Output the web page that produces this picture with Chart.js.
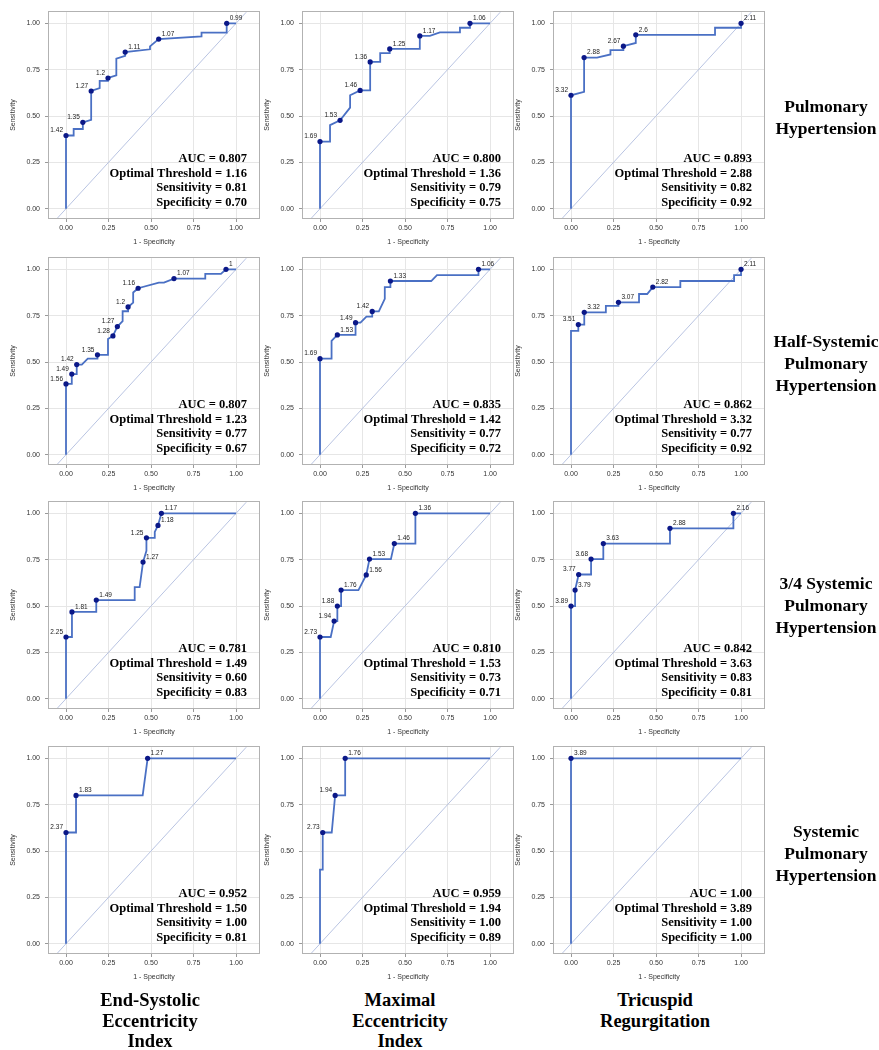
<!DOCTYPE html>
<html>
<head>
<meta charset="utf-8">
<script src="https://cdn.jsdelivr.net/npm/chart.js@4.4.0/dist/chart.umd.min.js"></script>
<style>
  body { margin: 0; background: #fff; }
  #wrap { position: relative; width: 879px; height: 1050px; overflow: hidden; background: #fff; }
  #wrap canvas { position: absolute; }
  .lab { position: absolute; width: 220px; text-align: center; color: #000;
         font-family: "Liberation Serif", "Times New Roman", serif; font-weight: bold; }
</style>
</head>
<body>
<div id="wrap"></div>
<script>
//////////////////////////////////////////////////
/////       Data   ////////
//////////////////////////////////////////////////

// row / column headings
var rowNames = [["Pulmonary", "Hypertension"],
                ["Half-Systemic", "Pulmonary", "Hypertension"],
                ["3/4 Systemic", "Pulmonary", "Hypertension"],
                ["Systemic", "Pulmonary", "Hypertension"]];
var colNames = [["End-Systolic", "Eccentricity", "Index"],
                ["Maximal", "Eccentricity", "Index"],
                ["Tricuspid", "Regurgitation"]];
var tickVals = [0, 0.25, 0.5, 0.75, 1];

// Pulmonary hypertension
var esiPH_fpr = [0, 0, 0.045, 0.045, 0.099, 0.099, 0.148, 0.148, 0.198, 0.198, 0.247, 0.247, 0.296, 0.296, 0.348, 0.348, 0.494, 0.494, 0.545, 0.797, 0.797, 0.945, 0.945, 1];
var esiPH_tpr = [0, 0.395, 0.395, 0.43, 0.43, 0.466, 0.48, 0.635, 0.65, 0.69, 0.69, 0.705, 0.72, 0.81, 0.825, 0.845, 0.86, 0.876, 0.915, 0.93, 0.95, 0.95, 1, 1];
var esiPH_cut = [null, "1.42", null, null, null, "1.35", null, "1.27", null, null, null, "1.2", null, null, null, "1.11", null, null, "1.07", null, null, null, "0.99", null];

var meiPH_fpr = [0, 0, 0.059, 0.059, 0.118, 0.177, 0.177, 0.236, 0.295, 0.295, 0.354, 0.354, 0.41, 0.41, 0.587, 0.587, 0.646, 0.705, 0.823, 0.823, 0.882, 0.882, 1];
var meiPH_tpr = [0, 0.362, 0.362, 0.451, 0.477, 0.545, 0.612, 0.638, 0.638, 0.792, 0.792, 0.839, 0.839, 0.862, 0.862, 0.932, 0.932, 0.951, 0.951, 0.976, 0.976, 1, 1];
var meiPH_cut = [null, "1.69", null, null, "1.53", null, null, "1.46", null, "1.36", null, null, null, "1.25", null, "1.17", null, null, null, null, null, "1.06", null];

var trPH_fpr = [0, 0, 0.077, 0.077, 0.153, 0.232, 0.232, 0.308, 0.308, 0.381, 0.381, 0.847, 0.847, 1, 1];
var trPH_tpr = [0, 0.612, 0.63, 0.815, 0.815, 0.832, 0.855, 0.855, 0.877, 0.894, 0.938, 0.938, 0.976, 0.976, 1];
var trPH_cut = [null, "3.32", null, "2.88", null, null, null, null, "2.67", null, "2.6", null, null, null, "2.11"];

// Half-systemic
var esiHS_fpr = [0, 0, 0.034, 0.034, 0.063, 0.063, 0.093, 0.128, 0.185, 0.185, 0.247, 0.247, 0.276, 0.302, 0.333, 0.333, 0.365, 0.365, 0.395, 0.395, 0.424, 0.546, 0.576, 0.635, 0.819, 0.819, 0.911, 0.941, 1];
var esiHS_tpr = [0, 0.382, 0.382, 0.435, 0.435, 0.486, 0.486, 0.518, 0.518, 0.539, 0.539, 0.624, 0.641, 0.691, 0.72, 0.774, 0.774, 0.797, 0.82, 0.875, 0.898, 0.928, 0.928, 0.95, 0.95, 0.975, 0.975, 1, 1];
var esiHS_cut = [null, "1.56", null, "1.49", null, "1.42", null, null, null, "1.35", null, null, "1.28", "1.27", null, null, null, "1.2", null, null, "1.16", null, null, "1.07", null, null, null, "1", null];

var meiHS_fpr = [0, 0, 0.068, 0.068, 0.102, 0.209, 0.209, 0.238, 0.273, 0.307, 0.307, 0.346, 0.381, 0.381, 0.414, 0.414, 0.654, 0.688, 0.932, 0.932, 1];
var meiHS_tpr = [0, 0.518, 0.518, 0.614, 0.646, 0.646, 0.712, 0.712, 0.745, 0.745, 0.773, 0.773, 0.841, 0.904, 0.904, 0.937, 0.937, 0.969, 0.969, 1, 1];
var meiHS_cut = [null, "1.69", null, null, "1.53", null, "1.49", null, null, null, "1.42", null, null, null, null, "1.33", null, null, null, "1.06", null];

var trHS_fpr = [0, 0, 0.043, 0.043, 0.078, 0.078, 0.205, 0.205, 0.279, 0.279, 0.4, 0.4, 0.448, 0.481, 0.643, 0.643, 0.959, 0.959, 1, 1];
var trHS_tpr = [0, 0.668, 0.668, 0.702, 0.702, 0.768, 0.768, 0.803, 0.803, 0.822, 0.822, 0.867, 0.867, 0.904, 0.904, 0.937, 0.937, 0.969, 0.969, 1];
var trHS_cut = [null, null, null, "3.51", null, "3.32", null, null, null, "3.07", null, null, null, "2.82", null, null, null, null, null, "2.11"];

// 3/4 systemic
var esiTQ_fpr = [0, 0, 0.035, 0.035, 0.178, 0.178, 0.404, 0.404, 0.433, 0.453, 0.473, 0.473, 0.522, 0.522, 0.541, 0.561, 1];
var esiTQ_tpr = [0, 0.333, 0.333, 0.468, 0.468, 0.532, 0.532, 0.602, 0.602, 0.737, 0.798, 0.868, 0.868, 0.9, 0.935, 1, 1];
var esiTQ_cut = [null, "2.25", null, "1.81", null, "1.49", null, null, null, "1.27", null, "1.25", null, null, "1.18", "1.17", null];

var meiTQ_fpr = [0, 0, 0.063, 0.083, 0.102, 0.102, 0.124, 0.124, 0.226, 0.272, 0.291, 0.417, 0.437, 0.561, 0.561, 1];
var meiTQ_tpr = [0, 0.333, 0.333, 0.419, 0.419, 0.5, 0.5, 0.586, 0.586, 0.668, 0.753, 0.753, 0.837, 0.837, 1, 1];
var meiTQ_cut = [null, "2.73", null, "1.94", null, "1.88", null, "1.76", null, "1.56", "1.53", null, "1.46", null, "1.36", null];

var trTQ_fpr = [0, 0, 0.024, 0.024, 0.045, 0.118, 0.118, 0.19, 0.19, 0.582, 0.582, 0.955, 0.955, 1];
var trTQ_tpr = [0, 0.5, 0.5, 0.586, 0.67, 0.67, 0.753, 0.753, 0.837, 0.837, 0.919, 0.919, 1, 1];
var trTQ_cut = [null, "3.89", null, "3.79", "3.77", null, "3.68", null, "3.63", null, "2.88", null, "2.16", null];

// Systemic
var esiSY_fpr = [0, 0, 0.059, 0.059, 0.451, 0.48, 1];
var esiSY_tpr = [0, 0.6, 0.6, 0.8, 0.8, 1, 1];
var esiSY_cut = [null, "2.37", null, "1.83", null, "1.27", null];

var meiSY_fpr = [0, 0, 0.016, 0.016, 0.069, 0.089, 0.148, 0.148, 1];
var meiSY_tpr = [0, 0.4, 0.4, 0.6, 0.6, 0.8, 0.8, 1, 1];
var meiSY_cut = [null, null, null, "2.73", null, "1.94", null, "1.76", null];

var trSY_fpr = [0, 0, 1];
var trSY_tpr = [0, 1, 1];
var trSY_cut = [null, "3.89", null];

// inset statistics, row by row
var aucText  = ["0.807", "0.800", "0.893", "0.807", "0.835", "0.862", "0.781", "0.810", "0.842", "0.952", "0.959", "1.00"];
var optText  = ["1.16", "1.36", "2.88", "1.23", "1.42", "3.32", "1.49", "1.53", "3.63", "1.50", "1.94", "3.89"];
var sensText = ["0.81", "0.79", "0.82", "0.77", "0.77", "0.77", "0.60", "0.73", "0.83", "1.00", "1.00", "1.00"];
var specText = ["0.70", "0.75", "0.92", "0.67", "0.72", "0.92", "0.83", "0.71", "0.81", "0.81", "0.89", "1.00"];

var curves = [
    [esiPH_fpr, esiPH_tpr, esiPH_cut], [meiPH_fpr, meiPH_tpr, meiPH_cut], [trPH_fpr, trPH_tpr, trPH_cut],
    [esiHS_fpr, esiHS_tpr, esiHS_cut], [meiHS_fpr, meiHS_tpr, meiHS_cut], [trHS_fpr, trHS_tpr, trHS_cut],
    [esiTQ_fpr, esiTQ_tpr, esiTQ_cut], [meiTQ_fpr, meiTQ_tpr, meiTQ_cut], [trTQ_fpr, trTQ_tpr, trTQ_cut],
    [esiSY_fpr, esiSY_tpr, esiSY_cut], [meiSY_fpr, meiSY_tpr, meiSY_cut], [trSY_fpr, trSY_tpr, trSY_cut]
];

//////////////////////////////////////////////////
/////       Layout and style            //////////
//////////////////////////////////////////////////

// which side of its point each threshold label sits (L / R)
var labelSides = ["LLLLRRR", "LLLLRRR", "LRLRR",
                  "LLLLLLLLRR", "LRLLRR", "LRRRR",
                  "LRRRLRR", "LLLRRRRR", "LRLLRRR",
                  "LRR", "LLR", "R"];

var xZero = [66, 320, 571];        // page x of fpr = 0, per column
var yOne = [18, 264, 508, 753];    // page y of tpr = 1, per row
var unitX = 170, unitY = 190;
var xMin = -0.1, xMax = 1.135, yMin = -0.05, yMax = 1.06;
var yAxisW = 48, xAxisH = 32, padT = 4, padR = 4;
var frameW = Math.round((xMax - xMin) * unitX);
var frameH = Math.round((yMax - yMin) * unitY);

var curveColor = "#4a70c4";
var dotColor = "#0b1888";
var diagColor = "#b9c4e2";
var sansFont = "'Liberation Sans', Arial, sans-serif";

var wrap = document.getElementById("wrap");

var framePlugin = {
    id: "frame",
    beforeDatasetsDraw: function (chart) {
        var a = chart.chartArea, ctx = chart.ctx;
        ctx.save();
        ctx.strokeStyle = "#b2b2b2";
        ctx.lineWidth = 1;
        ctx.strokeRect(Math.round(a.left) - 0.5, Math.round(a.top) - 0.5, Math.round(a.right - a.left) + 1, Math.round(a.bottom - a.top) + 1);
        ctx.restore();
    }
};

var textPlugin = {
    id: "rocText",
    afterDatasetsDraw: function (chart) {
        var k = chart.options.plugins.rocText.k;
        var c = curves[k];
        var a = chart.chartArea, ctx = chart.ctx;
        var xs = chart.scales.x, ys = chart.scales.y;
        ctx.save();
        // threshold labels
        ctx.font = "6.5px " + sansFont;
        ctx.fillStyle = "#222";
        ctx.textBaseline = "middle";
        var j = 0;
        c[2].forEach(function (lab, i) {
            if (lab === null) return;
            var side = labelSides[k][j++];
            var px = xs.getPixelForValue(c[0][i]), py = ys.getPixelForValue(c[1][i]);
            if (side === "L") {
                ctx.textAlign = "right";
                ctx.fillText(lab, px - 3, py - 5);
            } else {
                ctx.textAlign = "left";
                ctx.fillText(lab, px + 3, py - 5);
            }
        });
        // stats inset
        var lines = ["AUC = " + aucText[k], "Optimal Threshold = " + optText[k],
                     "Sensitivity = " + sensText[k], "Specificity = " + specText[k]];
        ctx.font = "bold 12.5px 'Liberation Serif', 'Times New Roman', serif";
        ctx.fillStyle = "#000";
        ctx.textAlign = "right";
        lines.forEach(function (t, i) {
            ctx.fillText(t, a.right - 12, a.bottom - 15.5 - (3 - i) * 14.6);
        });
        ctx.restore();
    }
};

function makePanel(r, c) {
    var k = r * 3 + c;
    var fpr = curves[k][0], tpr = curves[k][1], cut = curves[k][2];
    var cv = document.createElement("canvas");
    cv.width = yAxisW + frameW + padR;
    cv.height = padT + frameH + xAxisH;
    cv.style.left = Math.round(xZero[c] + xMin * unitX - yAxisW) + "px";
    cv.style.top = Math.round(yOne[r] - (yMax - 1) * unitY - padT) + "px";
    wrap.appendChild(cv);

    var line = fpr.map(function (x, i) { return {x: x, y: tpr[i]}; });
    var dots = line.filter(function (p, i) { return cut[i] !== null; });

    var axisFont = {family: sansFont, size: 7};

    new Chart(cv.getContext("2d"), {
        type: "scatter",
        data: {
            datasets: [
                {
                    data: dots,
                    showLine: false,
                    pointRadius: 2.6,
                    pointBackgroundColor: dotColor,
                    pointBorderWidth: 0,
                    order: 0
                },
                {
                    data: line,
                    showLine: true,
                    borderColor: curveColor,
                    borderWidth: 1.8,
                    pointRadius: 0,
                    order: 1
                },
                {
                    // y = x reference line, clipped to the plot area
                    data: [{x: -1, y: -1}, {x: 2, y: 2}],
                    showLine: true,
                    borderColor: diagColor,
                    borderWidth: 1,
                    pointRadius: 0,
                    order: 2
                }
            ]
        },
        options: {
            responsive: false,
            animation: false,
            devicePixelRatio: 1,
            events: [],
            layout: {padding: {top: padT, right: padR, left: 0, bottom: 0}},
            plugins: {
                legend: {display: false},
                tooltip: {enabled: false},
                rocText: {k: k}
            },
            scales: {
                x: {
                    type: "linear",
                    min: xMin,
                    max: xMax,
                    afterBuildTicks: function (s) { s.ticks = tickVals.map(function (v) { return {value: v}; }); },
                    afterFit: function (s) { s.height = xAxisH; },
                    border: {display: false},
                    grid: {color: "#e6e6e6", tickColor: "#9a9a9a", tickLength: 4},
                    ticks: {font: axisFont, color: "#333", padding: 2, maxRotation: 0,
                            callback: function (v) { return Number(v).toFixed(2); }},
                    title: {display: true, text: "1 - Specificity", font: axisFont, color: "#333",
                            padding: {top: 0, bottom: 4}}
                },
                y: {
                    type: "linear",
                    min: yMin,
                    max: yMax,
                    afterBuildTicks: function (s) { s.ticks = tickVals.map(function (v) { return {value: v}; }); },
                    afterFit: function (s) { s.width = yAxisW; },
                    border: {display: false},
                    grid: {color: "#e6e6e6", tickColor: "#9a9a9a", tickLength: 4},
                    ticks: {font: axisFont, color: "#333", padding: 5,
                            callback: function (v) { return Number(v).toFixed(2); }},
                    title: {display: true, text: "Sensitivity", font: axisFont, color: "#333",
                            padding: {top: 8, bottom: 0}}
                }
            }
        },
        plugins: [framePlugin, textPlugin]
    });
}

for (var r = 0; r < 4; r++) {
    for (var c = 0; c < 3; c++) makePanel(r, c);
}

//////////////////////////////////////////////////
/////       Row / column headings       //////////
//////////////////////////////////////////////////

var rowCenterY = [116.5, 362.5, 605, 853];
rowNames.forEach(function (lines, i) {
    var d = document.createElement("div");
    d.className = "lab";
    d.style.fontSize = "17.5px";
    d.style.lineHeight = "22px";
    d.style.left = (826 - 110) + "px";
    d.style.top = (rowCenterY[i] - lines.length * 11) + "px";
    d.innerHTML = lines.join("<br>");
    wrap.appendChild(d);
});

var colCenterX = [150, 400, 655];
colNames.forEach(function (lines, i) {
    var d = document.createElement("div");
    d.className = "lab";
    d.style.fontSize = "18.5px";
    d.style.lineHeight = "20.5px";
    d.style.left = (colCenterX[i] - 110) + "px";
    d.style.top = "990px";
    d.innerHTML = lines.join("<br>");
    wrap.appendChild(d);
});
</script>
</body>
</html>
